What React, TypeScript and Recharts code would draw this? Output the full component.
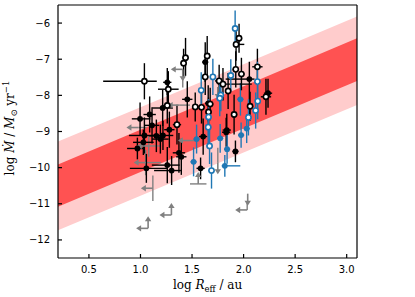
import React from "react";
import { ComposedChart, Area, Scatter, XAxis, YAxis, ErrorBar } from "recharts";

const xTicks = [0.5, 1.0, 1.5, 2.0, 2.5, 3.0];
const yTicks = [-12, -11, -10, -9, -8, -7, -6];

// fit bands read at a few x positions
const bandX = [0.2, 1.0, 2.0, 3.1];
const outerLo = [-11.73, -10.78, -9.58, -8.27];
const outerHi = [-9.28, -8.33, -7.14, -5.82];
const innerLo = [-11.08, -10.12, -8.92, -7.6];
const innerHi = [-9.91, -8.95, -7.75, -6.42];

// [x, y, x- , x+, y-, y+]
const blackFilled = [
  [1.628, -7.08, 0.03, 0.03, 0.55, 0.55],
  [2.056, -7.55, 0.23, 0.05, 0.99, 0.48],
  [1.26, -7.64, 0.04, 0.04, 0.35, 0.4],
  [1.454, -8.11, 0.05, 0.05, 0.5, 0.5],
  [2.237, -7.94, 0.04, 0.04, 0.4, 0.4],
  [1.657, -8.22, 0.03, 0.03, 0.5, 0.5],
  [1.215, -8.35, 0.1, 0.1, 0.5, 0.5],
  [1.089, -8.53, 0.06, 0.06, 0.5, 0.5],
  [0.996, -8.65, 0.08, 0.1, 0.45, 0.45],
  [1.112, -8.83, 0.07, 0.07, 0.5, 0.5],
  [1.28, -8.95, 0.05, 0.05, 0.5, 0.5],
  [1.837, -8.96, 0.04, 0.04, 0.45, 0.45],
  [1.831, -9.02, 0.04, 0.04, 0.4, 0.4],
  [1.038, -9.11, 0.15, 0.1, 0.5, 0.5],
  [1.154, -9.12, 0.07, 0.07, 0.45, 0.45],
  [1.218, -9.11, 0.1, 0.1, 0.4, 0.4],
  [1.608, -9.14, 0.04, 0.04, 0.5, 0.5],
  [1.193, -9.21, 0.08, 0.08, 0.4, 0.4],
  [1.028, -9.3, 0.1, 0.1, 0.35, 0.35],
  [0.97, -9.47, 0.1, 0.07, 0.3, 0.3],
  [1.921, -9.55, 0.03, 0.03, 0.3, 0.3],
  [1.373, -9.59, 0.06, 0.06, 0.55, 0.55],
  [1.396, -9.7, 0.05, 0.05, 0.5, 0.5],
  [1.26, -9.93, 0.15, 0.12, 0.5, 0.5],
  [1.057, -10.02, 0.16, 0.2, 0.4, 0.4],
  [1.583, -10.02, 0.04, 0.04, 0.3, 0.3],
  [1.302, -10.08, 0.17, 0.09, 0.4, 0.4],
];

const blackOpen = [
  [1.956, -6.42, 0.03, 0.03, 0.4, 0.4],
  [1.927, -6.59, 0.02, 0.08, 0.45, 0.4],
  [1.437, -6.96, 0.03, 0.03, 0.5, 0.55],
  [1.418, -7.11, 0.03, 0.03, 0.4, 0.4],
  [1.647, -6.91, 0.03, 0.03, 0.55, 0.55],
  [2.134, -7.21, 0.05, 0.05, 0.5, 0.5],
  [1.924, -7.28, 0.03, 0.03, 0.5, 0.5],
  [1.979, -7.41, 0.03, 0.03, 0.45, 0.45],
  [1.628, -7.49, 0.03, 0.03, 0.5, 0.5],
  [1.763, -7.6, 0.04, 0.04, 0.45, 0.45],
  [1.038, -7.61, 0.4, 0.12, 0.5, 0.5],
  [1.8, -7.69, 0.05, 0.28, 0.45, 0.45],
  [1.27, -7.83, 0.1, 0.1, 0.5, 0.5],
  [1.85, -7.88, 0.03, 0.03, 0.5, 0.5],
  [2.217, -8.04, 0.05, 0.05, 0.5, 0.5],
  [1.26, -8.28, 0.04, 0.04, 0.5, 0.5],
  [2.063, -8.3, 0.03, 0.03, 0.4, 0.4],
  [1.531, -8.32, 0.03, 0.03, 0.4, 0.4],
  [1.592, -8.33, 0.03, 0.03, 0.45, 0.45],
  [1.676, -8.24, 0.03, 0.03, 0.45, 0.45],
  [1.66, -8.46, 0.03, 0.03, 0.4, 0.4],
  [1.908, -8.53, 0.03, 0.03, 0.55, 0.55],
  [1.354, -8.81, 0.04, 0.04, 0.55, 0.55],
];

const blueFilled = [
  [1.969, -8.11, 0.03, 0.03, 0.45, 0.45],
  [2.03, -8.92, 0.03, 0.03, 0.4, 0.4],
  [1.976, -9.1, 0.03, 0.03, 0.35, 0.35],
  [1.773, -9.19, 0.03, 0.03, 0.4, 0.4],
  [1.544, -9.21, 0.03, 0.03, 0.4, 0.4],
  [1.84, -9.49, 0.03, 0.03, 0.4, 0.4],
  [1.515, -9.84, 0.03, 0.03, 0.4, 0.4],
  [1.818, -9.95, 0.03, 0.15, 0.3, 0.3],
];

const blueOpen = [
  [1.918, -6.15, 0.02, 0.02, 0.5, 0.5],
  [1.876, -7.45, 0.03, 0.03, 0.45, 0.45],
  [1.702, -7.49, 0.03, 0.03, 0.5, 0.5],
  [2.134, -7.62, 0.03, 0.03, 0.55, 0.55],
  [1.589, -7.86, 0.03, 0.03, 0.5, 0.5],
  [1.779, -7.99, 0.03, 0.03, 0.45, 0.45],
  [1.769, -8.08, 0.03, 0.03, 0.5, 0.5],
  [2.137, -8.16, 0.03, 0.03, 0.5, 0.5],
  [2.117, -8.42, 0.03, 0.03, 0.5, 0.5],
  [1.66, -8.6, 0.03, 0.03, 0.5, 0.5],
  [2.047, -8.61, 0.03, 0.03, 0.5, 0.5],
  [1.657, -8.88, 0.03, 0.03, 0.5, 0.5],
  [1.67, -9.4, 0.03, 0.03, 0.5, 0.5],
  [1.689, -10.08, 0.03, 0.03, 0.5, 0.5],
];

// limits: [x, y, x-, x+, y-, y+, arrows]  l = left, u = up, d = down
const limits: [number, number, number, number, number, number, string][] = [
  [1.41, -7.28, 0, 0, 0.5, 0, "ld"],
  [1.38, -8.27, 0, 0.1, 0, 0, "l"],
  [0.98, -8.89, 0, 0.08, 0, 0, "l"],
  [1.08, -9.4, 0, 0.12, 0.3, 0.3, "l"],
  [1.05, -9.86, 0, 0.15, 0.35, 0.35, "l"],
  [1.48, -9.25, 0, 0.05, 0, 0, "l"],
  [1.75, -7.77, 0, 0, 0.3, 0, "d"],
  [1.75, -9.85, 0, 0, 0, 0.4, "d"],
  [1.56, -10.45, 0.08, 0.08, 0, 0, "u"],
  [1.12, -10.57, 0, 0, 0.35, 0.35, "l"],
  [1.074, -11.68, 0, 0, 0, 0, "lu"],
  [1.3, -11.31, 0, 0, 0, 0, "lu"],
  [2.035, -11.17, 0, 0, 0, 0.2, "l"],
  [2.04, -10.72, 0, 0, 0, 0, "d"],
];

const BLUE = "#1f77b4";
const GRAY = "#808080";
const ARROW = 12;

const bandData = bandX.map((x, i) => ({
  x,
  outer: [outerLo[i], outerHi[i]],
  inner: [innerLo[i], innerHi[i]],
}));

const toPoints = (rows: number[][]) =>
  rows.map((r) => ({ x: r[0], y: r[1], ex: [r[2], r[3]], ey: [r[4], r[5]] }));

const limitData = limits.map((r) => ({
  x: r[0],
  y: r[1],
  ex: [r[2], r[3]],
  ey: [r[4], r[5]],
  kind: r[6],
}));

const fmtY = (v: number) => (v < 0 ? "\u2212" + Math.abs(v) : String(v));
const fmtX = (v: number) => v.toFixed(1);

const dot = (color: string) => (p: any) => <circle cx={p.cx} cy={p.cy} r={2.9} fill={color} />;
const ring = (color: string) => (p: any) => (
  <circle cx={p.cx} cy={p.cy} r={2.6} fill="#fff" stroke={color} strokeWidth={1.6} />
);

function LimitShape(p: any) {
  const { cx, cy, payload } = p;
  const parts: React.ReactNode[] = [];
  for (const k of payload.kind as string) {
    if (k === "l") {
      const t = cx - ARROW;
      parts.push(<line key="l" x1={cx} y1={cy} x2={t + 3} y2={cy} stroke={GRAY} strokeWidth={1.6} />);
      parts.push(<polygon key="lh" points={`${t},${cy} ${t + 5},${cy - 3.2} ${t + 5},${cy + 3.2}`} fill={GRAY} />);
    } else if (k === "u") {
      const t = cy - ARROW;
      parts.push(<line key="u" x1={cx} y1={cy} x2={cx} y2={t + 3} stroke={GRAY} strokeWidth={1.6} />);
      parts.push(<polygon key="uh" points={`${cx},${t} ${cx - 3.2},${t + 5} ${cx + 3.2},${t + 5}`} fill={GRAY} />);
    } else if (k === "d") {
      const t = cy + ARROW;
      parts.push(<line key="d" x1={cx} y1={cy} x2={cx} y2={t - 3} stroke={GRAY} strokeWidth={1.6} />);
      parts.push(<polygon key="dh" points={`${cx},${t} ${cx - 3.2},${t - 5} ${cx + 3.2},${t - 5}`} fill={GRAY} />);
    }
  }
  return <g>{parts}</g>;
}

const tickStyle = { fill: "#000", fontSize: 10, fontFamily: "DejaVu Sans" };
const axisStroke = { stroke: "#000", strokeWidth: 1.2 };

function bars(color: string) {
  return [
    <ErrorBar key="x" dataKey="ex" direction="x" width={0} stroke={color} strokeWidth={1.4} />,
    <ErrorBar key="y" dataKey="ey" direction="y" width={0} stroke={color} strokeWidth={1.4} />,
  ];
}

export default function App() {
  return (
    <div style={{ position: "absolute", left: 0, top: 0, width: 415, height: 297, background: "#fff" }}>
      <ComposedChart width={415} height={297} data={bandData} margin={{ top: 4, right: 0, bottom: 0, left: 0 }}>
        <XAxis
          dataKey="x"
          type="number"
          domain={[0.2, 3.1]}
          ticks={xTicks}
          allowDataOverflow
          height={39}
          tickSize={-4}
          tickMargin={12}
          tick={tickStyle}
          tickFormatter={fmtX}
          axisLine={axisStroke}
          tickLine={axisStroke}
        />
        <XAxis
          xAxisId="top"
          orientation="top"
          type="number"
          domain={[0.2, 3.1]}
          ticks={xTicks}
          allowDataOverflow
          height={1}
          tickSize={-4}
          tick={false}
          axisLine={axisStroke}
          tickLine={axisStroke}
        />
        <YAxis
          dataKey="y"
          type="number"
          domain={[-12.5, -5.5]}
          ticks={yTicks}
          allowDataOverflow
          width={58}
          tickSize={-4}
          tickMargin={12}
          tick={tickStyle}
          tickFormatter={fmtY}
          axisLine={axisStroke}
          tickLine={axisStroke}
        />
        <YAxis
          yAxisId="right"
          orientation="right"
          type="number"
          domain={[-12.5, -5.5]}
          ticks={yTicks}
          allowDataOverflow
          width={58}
          tickSize={-4}
          tick={false}
          axisLine={axisStroke}
          tickLine={axisStroke}
        />
        <Area dataKey="outer" type="linear" stroke="none" fill="#ffcccc" fillOpacity={1} isAnimationActive={false} />
        <Area dataKey="inner" type="linear" stroke="none" fill="#ff5252" fillOpacity={1} isAnimationActive={false} />
        <Scatter data={limitData} shape={LimitShape} isAnimationActive={false}>
          {bars(GRAY)}
        </Scatter>
        <Scatter data={toPoints(blackFilled)} shape={dot("#000")} isAnimationActive={false}>
          {bars("#000")}
        </Scatter>
        <Scatter data={toPoints(blueFilled)} shape={dot(BLUE)} isAnimationActive={false}>
          {bars(BLUE)}
        </Scatter>
        <Scatter data={toPoints(blackOpen)} shape={ring("#000")} isAnimationActive={false}>
          {bars("#000")}
        </Scatter>
        <Scatter data={toPoints(blueOpen)} shape={ring(BLUE)} isAnimationActive={false}>
          {bars(BLUE)}
        </Scatter>
      </ComposedChart>
      <svg
        width={415}
        height={297}
        style={{ position: "absolute", left: 0, top: 0, pointerEvents: "none" }}
        fontFamily="'DejaVu Serif', serif"
        fontSize={12}
      >
        <text x={207.5} y={289} textAnchor="middle">
          log <tspan fontStyle="italic">R</tspan>
          <tspan fontSize={8.5} dy={3}>eff</tspan>
          <tspan dy={-3}> / au</tspan>
        </text>
        <text transform="translate(14,128) rotate(-90)" textAnchor="middle">
          log <tspan fontStyle="italic">Ṁ</tspan> / <tspan fontStyle="italic">M</tspan>
          <tspan fontSize={8.5} dy={3}>⊙</tspan>
          <tspan dy={-3}> yr</tspan>
          <tspan fontSize={8.5} dy={-5}>−1</tspan>
        </text>
      </svg>
    </div>
  );
}
